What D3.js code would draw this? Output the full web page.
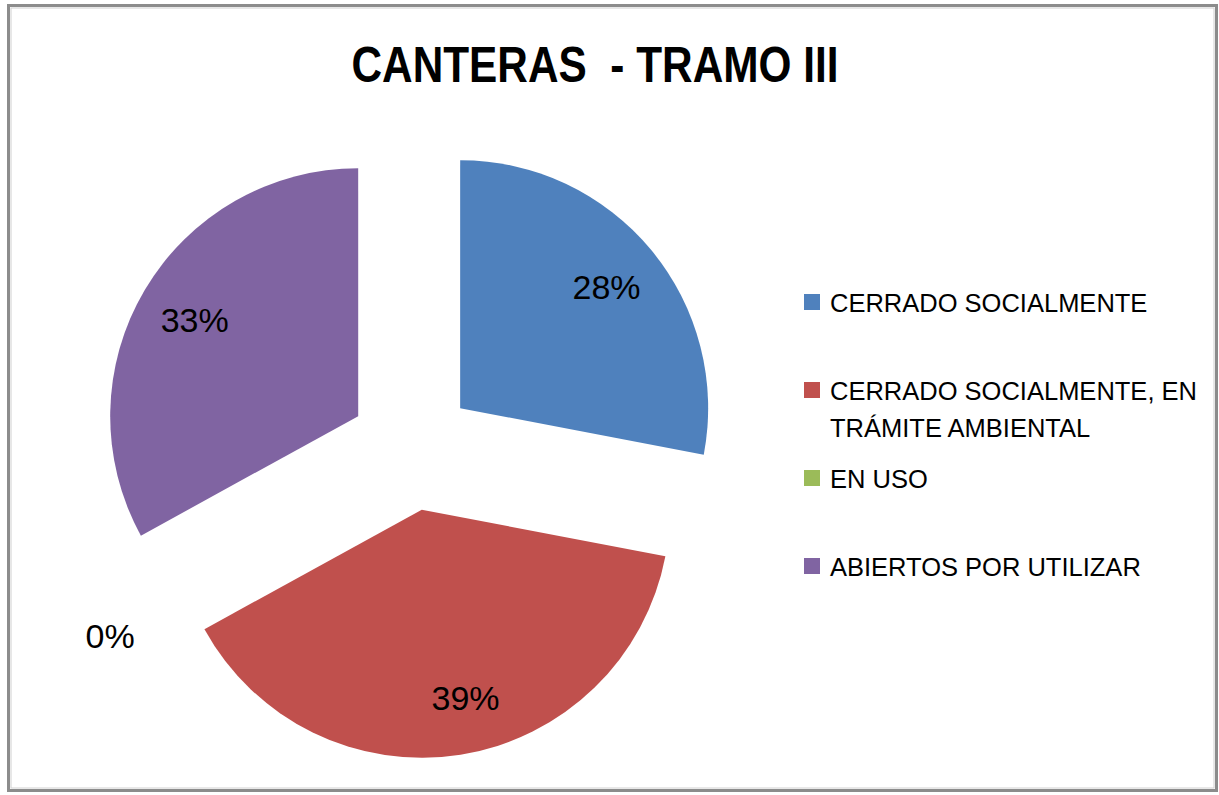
<!DOCTYPE html>
<html>
<head>
<meta charset="utf-8">
<script src="https://cdn.jsdelivr.net/npm/d3@7"></script>
<style>
  body { margin: 0; background: #fff; }
  text { font-family: "Liberation Sans", Arial, sans-serif; fill: #000; }
</style>
</head>
<body>
<svg width="1219" height="795"></svg>
<script>
// ************** Data *****************
const title = "CANTERAS  - TRAMO III";
const categories = ["CERRADO SOCIALMENTE", "CERRADO SOCIALMENTE, EN TRÁMITE AMBIENTAL", "EN USO", "ABIERTOS POR UTILIZAR"];
const values = [28, 39, 0, 33];           // percent
const colors = ["#4F81BD", "#C0504D", "#9BBB59", "#8064A2"];

// *************** Graph Setup *****************
let svg = d3.select("svg");

// chart frame
svg.append("rect")
    .attr("x", 8.5).attr("y", 5.5)
    .attr("width", 1208).attr("height", 785)
    .attr("fill", "none")
    .attr("stroke", "#8c8c8c")
    .attr("stroke-width", 3);
svg.append("rect")
    .attr("x", 11).attr("y", 8)
    .attr("width", 1203).attr("height", 780)
    .attr("fill", "none")
    .attr("stroke", "#d0d0d0")
    .attr("stroke-width", 1);

// title (keep the double space)
svg.append("text")
    .attr("x", 595)
    .attr("y", 82)
    .attr("text-anchor", "middle")
    .attr("font-size", 50)
    .attr("font-weight", "bold")
    .attr("xml:space", "preserve")
    .style("white-space", "pre")
    .attr("textLength", 487)
    .attr("lengthAdjust", "spacingAndGlyphs")
    .text(title);

// pie
const cx = 412, cy = 448;
const radius = 248;
const explode = 62.5;

const data = categories.map((c, i) => ({ name: c, value: values[i], color: colors[i] }));

let pie = d3.pie()
    .sort(null)
    .value(d => d.value);

let arc = d3.arc().innerRadius(0).outerRadius(radius);
let labelArc = d3.arc().innerRadius(190).outerRadius(190);
let outerLabelArc = d3.arc().innerRadius(356).outerRadius(356);

let chart = svg.append("g")
    .attr("transform", "translate(" + cx + "," + cy + ")");

const arcs = pie(data);

function offset(d, dist) {
    const mid = (d.startAngle + d.endAngle) / 2;
    return [Math.sin(mid) * dist, -Math.cos(mid) * dist];
}

let slices = chart.selectAll(".slice")
    .data(arcs)
    .enter().append("g")
    .attr("class", "slice")
    .attr("transform", d => "translate(" + offset(d, explode) + ")");

slices.append("path")
    .attr("d", arc)
    .attr("fill", d => d.data.color);

slices.append("text")
    .attr("text-anchor", "middle")
    .attr("dy", "0.36em")
    .attr("font-size", 34)
    .attr("transform", d => {
        let p;
        if (d.data.value === 0) {
            // zero slice: label sits outside the pie
            const o = offset(d, explode);
            const c = outerLabelArc.centroid(d);
            p = [c[0] - o[0] + 10, c[1] - o[1] + 16];
        } else {
            p = labelArc.centroid(d);
            if (d.index === 1) p = [p[0] + 14, p[1]];
        }
        return "translate(" + p + ")";
    })
    .text(d => d.data.value + "%");

// legend
let legend = svg.append("g").attr("transform", "translate(804,0)");
const maxW = 370;

let items = legend.selectAll(".item")
    .data(data)
    .enter().append("g")
    .attr("class", "item")
    .attr("transform", (d, i) => "translate(0," + (312 + 88 * i) + ")");

items.append("rect")
    .attr("x", 0).attr("y", -18)
    .attr("width", 16).attr("height", 16)
    .attr("fill", d => d.color);

items.append("text")
    .attr("x", 26)
    .attr("font-size", 25.5)
    .each(function (d) {
        const t = d3.select(this);
        const words = d.name.split(" ");
        let line = [];
        let tspan = t.append("tspan").attr("x", 26).attr("dy", 0);
        words.forEach(w => {
            line.push(w);
            tspan.text(line.join(" "));
            if (tspan.node().getComputedTextLength() > maxW && line.length > 1) {
                line.pop();
                tspan.text(line.join(" "));
                line = [w];
                tspan = t.append("tspan").attr("x", 26).attr("dy", 37).text(w);
            }
        });
    });
</script>
</body>
</html>
